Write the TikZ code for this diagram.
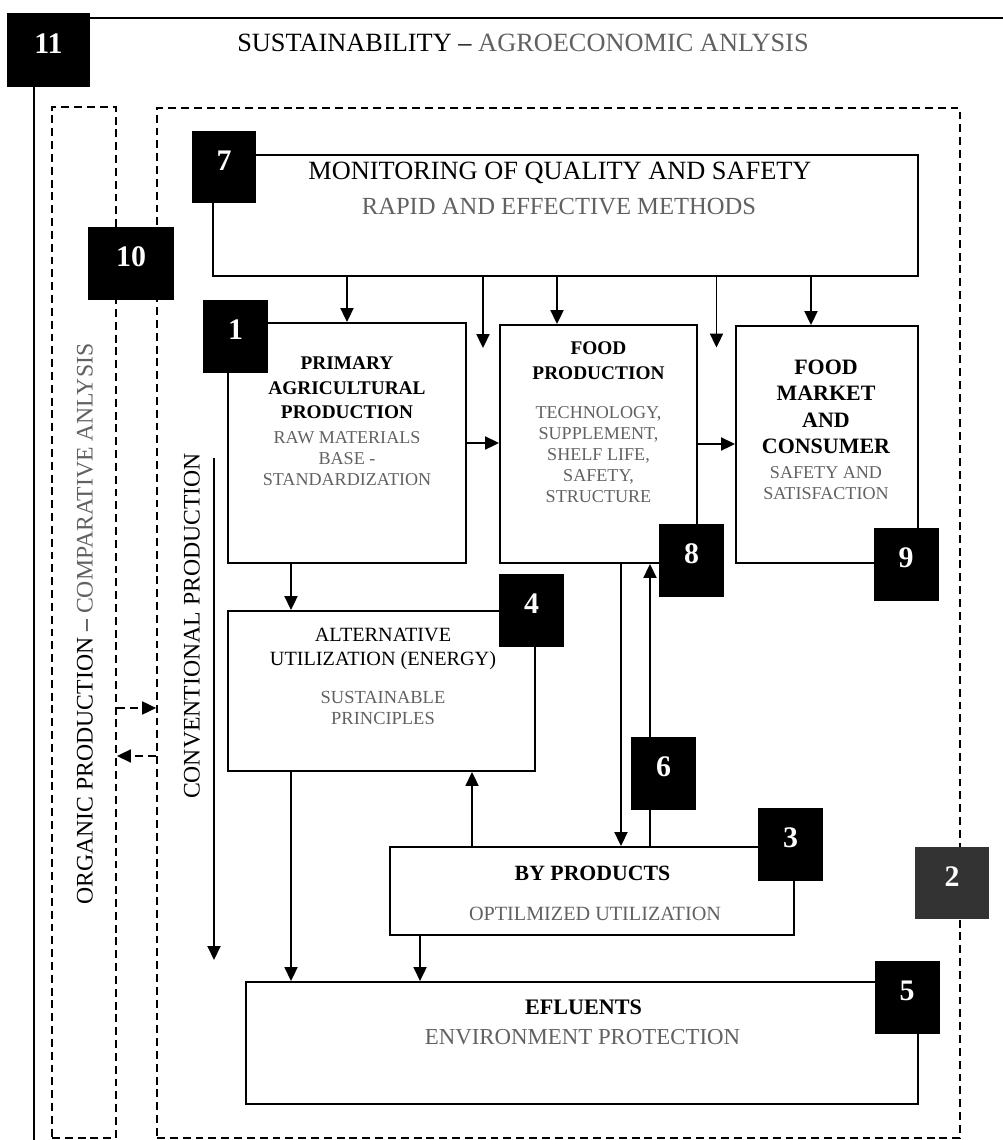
\documentclass[tikz,border=0pt]{standalone}
\usepackage{fontspec}
\setmainfont{Liberation Serif}
\usepackage{tikz}
\usetikzlibrary{arrows.meta,positioning,calc}
\definecolor{subgray}{gray}{0.38}

\begin{document}
\begin{tikzpicture}[x=0.02cm, y=-0.02cm,
    box/.style={rectangle, draw, line width=1.1pt, inner sep=0pt},
    dbox/.style={rectangle, draw, line width=1.1pt, dash pattern=on 4.5pt off 2.8pt, inner sep=0pt},
    badge/.style={rectangle, fill=black, text=white, inner sep=0pt, minimum width=1.3cm, minimum height=1.46cm, font=\fontsize{17}{17}\selectfont\bfseries, text height=11.5pt, text depth=8pt},
    head/.style={align=center, font=\fontsize{11}{14}\selectfont\bfseries},
    sub/.style={align=center, text=subgray, font=\fontsize{10.3}{12}\selectfont},
    arrow/.style={-{Triangle[length=0.28cm, width=0.26cm]}, line width=1.1pt},
    darrow/.style={arrow, dash pattern=on 4.5pt off 2.8pt},
    frame/.style={line width=1.3pt}
]
\useasboundingbox (0,0) rectangle (1003,1140);

% Outer frame
\coordinate (frame-tr) at (1003,18);
\coordinate (frame-bl) at (34,1140);
\draw[frame] (frame-tr) -| (frame-bl);
\node[font=\fontsize{15}{15}\selectfont] (title) at (523,43) {SUSTAINABILITY – {\color{subgray}AGROECONOMIC ANLYSIS}};

% Organic / conventional areas
\node[dbox, minimum width=1.28cm, minimum height=20.62cm] (orgbox) at (84,622.5) {};
\node[dbox, minimum width=16.06cm, minimum height=20.6cm] (convbox) at (558.5,623) {};
\node[rotate=90, font=\fontsize{13.5}{15}\selectfont] (org-t) at (85,624) {ORGANIC PRODUCTION – {\color{subgray}COMPARATIVE ANLYSIS}};
\node[rotate=90, font=\fontsize{13.5}{15}\selectfont] (conv-t) at (192,626) {CONVENTIONAL PRODUCTION};

% Blocks
\node[box, minimum width=14.1cm, minimum height=2.42cm] (mon) at (565.5,215.5) {};
\node[box, minimum width=4.76cm, minimum height=4.8cm] (prim) at (347,443) {};
\node[box, minimum width=3.94cm, minimum height=4.76cm] (fprod) at (598.5,444) {};
\node[box, minimum width=3.64cm, minimum height=4.74cm] (fmark) at (827,444.5) {};
\node[box, minimum width=6.14cm, minimum height=3.2cm] (alt) at (381.5,691) {};
\node[box, minimum width=8.08cm, minimum height=1.76cm] (byp) at (592,891) {};
\node[box, minimum width=13.44cm, minimum height=2.44cm] (eflu) at (582,1043) {};

% Block texts
\node[font=\fontsize{15}{18}\selectfont] (mon-h) at (560,173) {MONITORING OF QUALITY AND SAFETY};
\node[font=\fontsize{14}{17}\selectfont, text=subgray] (mon-s) at (559,207) {RAPID AND EFFECTIVE METHODS};
\node[head] (prim-h) at (347,388) {PRIMARY\\AGRICULTURAL\\PRODUCTION};
\node[sub, font=\fontsize{10.3}{11.8}\selectfont] (prim-s) at (347,458.5) {RAW MATERIALS\\BASE -\\STANDARDIZATION};
\node[head] (fprod-h) at (598.5,360.5) {FOOD\\PRODUCTION};
\node[sub] (fprod-s) at (598.5,454.5) {TECHNOLOGY,\\SUPPLEMENT,\\SHELF LIFE,\\SAFETY,\\STRUCTURE};
\node[head, font=\fontsize{12.5}{15}\selectfont\bfseries] (fmark-h) at (826,407) {FOOD\\MARKET\\AND\\CONSUMER};
\node[sub, font=\fontsize{10.3}{11.5}\selectfont] (fmark-s) at (826,483) {SAFETY AND\\SATISFACTION};
\node[align=center, font=\fontsize{11.5}{13.6}\selectfont] (alt-h) at (383,649) {ALTERNATIVE\\UTILIZATION (ENERGY)};
\node[sub, font=\fontsize{10.5}{12.4}\selectfont] (alt-s) at (383,708) {SUSTAINABLE\\PRINCIPLES};
\node[font=\fontsize{12.4}{14}\selectfont\bfseries] (byp-h) at (592.5,873) {BY PRODUCTS};
\node[sub, font=\fontsize{11.5}{13}\selectfont] (byp-s) at (595,914) {OPTILMIZED UTILIZATION};
\node[font=\fontsize{12.6}{14}\selectfont\bfseries] (eflu-h) at (583.5,1007) {EFLUENTS};
\node[sub, font=\fontsize{13}{15}\selectfont] (eflu-s) at (582.5,1037) {ENVIRONMENT PROTECTION};

% Monitoring feeds
\coordinate (gap1) at ($(prim.north east)!0.5!(fprod.north west)+(0,25)$);
\coordinate (gap2) at ($(fprod.north east)!0.5!(fmark.north west)+(0,23)$);
\draw[arrow] (mon.south -| prim.north) -- (prim.north);
\draw[arrow] (mon.south -| gap1) -- (gap1);
\draw[arrow] ([xshift=-0.83cm]fprod.north |- mon.south) -- ([xshift=-0.83cm]fprod.north);
\draw[arrow] (mon.south -| gap2) -- (gap2);
\draw[arrow] ([xshift=-0.32cm]fmark.north |- mon.south) -- ([xshift=-0.32cm]fmark.north);

% Production chain
\draw[arrow] (prim.east) -- (prim.east -| fprod.west);
\draw[arrow] (fprod.east) -- (fprod.east -| fmark.west);
\draw[arrow] ([xshift=-1.12cm]prim.south) -- ([xshift=-1.12cm]prim.south |- alt.north);
\draw[arrow] ([xshift=-1.81cm]alt.south) -- ([xshift=-1.81cm]alt.south |- eflu.north);
\draw[arrow] ([xshift=0.45cm]fprod.south) -- ([xshift=0.45cm]fprod.south |- byp.north);
\draw[arrow] ([xshift=1.03cm]fprod.south |- byp.north) -- ([xshift=1.03cm]fprod.south);
\draw[arrow] ([xshift=-2.4cm]byp.north) -- ([xshift=-2.4cm]byp.north |- alt.south);
\draw[arrow] ([xshift=-3.44cm]byp.south) -- ([xshift=-3.44cm]byp.south |- eflu.north);

% Conventional flow
\coordinate (conv-top) at (214,458);
\coordinate (conv-end) at (214,960);
\draw[arrow] (conv-top) -- (conv-end);

% Organic vs conventional
\draw[darrow] ([yshift=-1.71cm]orgbox.east) -- ([yshift=-1.71cm]orgbox.east -| convbox.west);
\draw[darrow] ([yshift=-2.67cm]orgbox.east -| convbox.west) -- ([yshift=-2.67cm]orgbox.east);

% Number badges
\node[badge, minimum width=1.66cm, minimum height=1.48cm] (n11) at (48.5,50) {11};
\node[badge, minimum width=1.72cm] (n10) at (131,263.5) {10};
\node[badge] (n7) at (224,167) {7};
\node[badge] (n1) at (235.5,336.5) {1};
\node[badge] (n4) at (531.5,610) {4};
\node[badge] (n8) at (691.5,560.5) {8};
\node[badge] (n9) at (906,564) {9};
\node[badge] (n6) at (663.5,773.5) {6};
\node[badge] (n3) at (790.5,844.5) {3};
\node[badge] (n5) at (907,997.5) {5};
\node[badge, minimum width=1.48cm, minimum height=1.44cm, fill=black!80] (n2) at (952,883) {2};
\end{tikzpicture}
\end{document}
